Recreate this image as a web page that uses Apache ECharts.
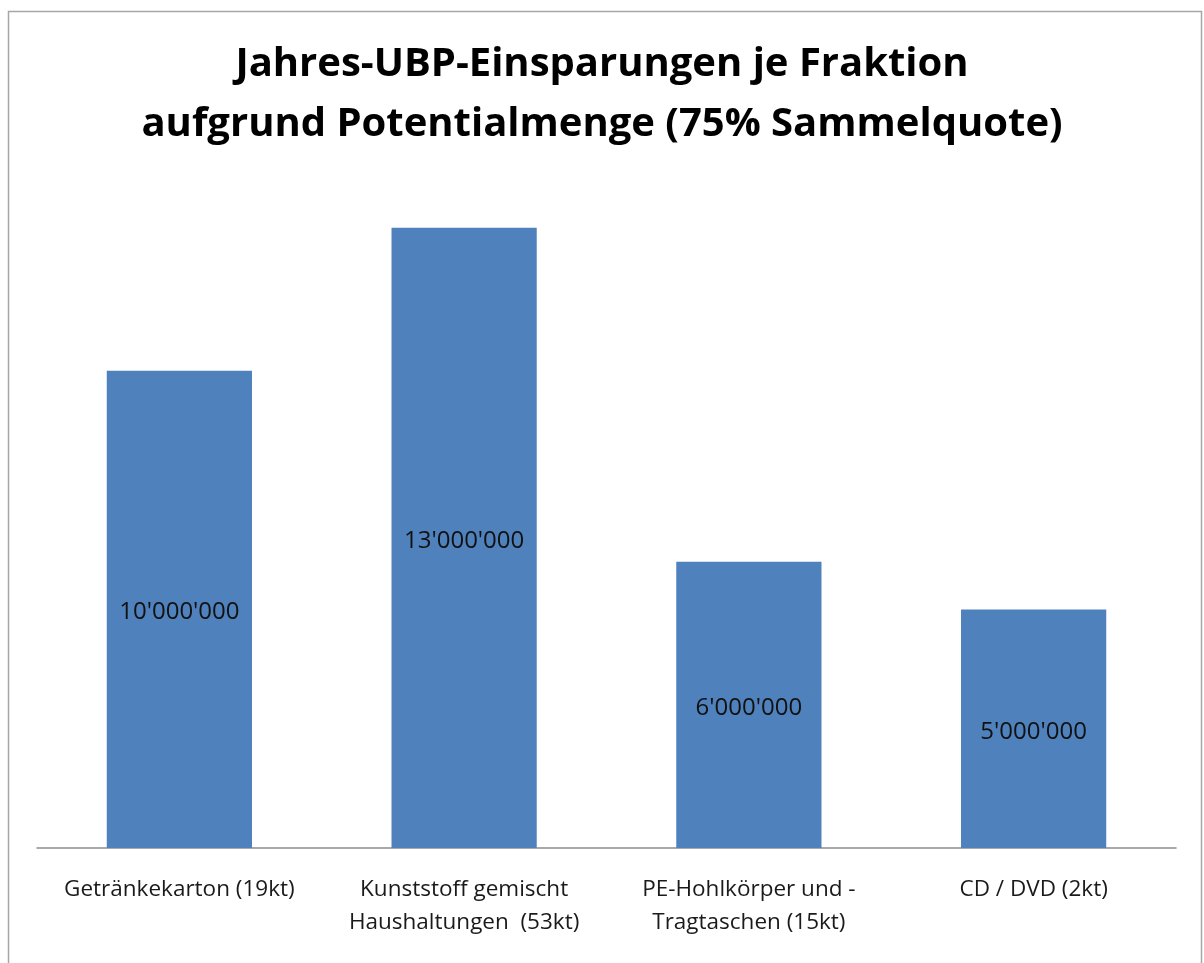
<!DOCTYPE html>
<html><head><meta charset="utf-8">
<script src="https://cdn.jsdelivr.net/npm/echarts@6/dist/echarts.min.js"></script>
<style>html,body{margin:0;padding:0;background:#fff}#c{width:1204px;height:963px}</style>
</head><body><div id="c"></div>
<script>
const titleText = "Jahres-UBP-Einsparungen je Fraktion\naufgrund Potentialmenge (75% Sammelquote)";
const categories = ["Getränkekarton (19kt)", "Kunststoff gemischt\nHaushaltungen  (53kt)", "PE-Hohlkörper und -\nTragtaschen (15kt)", "CD / DVD (2kt)"];
const values = [10000000, 13000000, 6000000, 5000000];

function fmt(v){ return String(Math.round(v)).replace(/\B(?=(\d{3})+(?!\d))/g, "'"); }

const chart = echarts.init(document.getElementById('c'), null, {renderer:'canvas'});
chart.setOption({
  animation:false,
  backgroundColor:'#fff',
  graphic:[{type:'rect', shape:{x:8.5,y:11.5,width:1193,height:970}, style:{fill:'none', stroke:'#a6a6a6', lineWidth:1.5}, silent:true}],
  title:{text:titleText, left:'center', top:30,
    textStyle:{fontFamily:'Open Sans', fontWeight:'bold', fontSize:40, lineHeight:60, color:'#000'}},
  grid:{left:37, right:28, top:180, bottom:115, containLabel:false},
  xAxis:{type:'category', data:categories,
    axisLine:{lineStyle:{color:'#8c8c8c', width:1.5}}, axisTick:{show:false},
    axisLabel:{interval:0, margin:25, fontFamily:'Open Sans', fontSize:22.5, lineHeight:33, color:'#1a1a1a'}},
  yAxis:{type:'value', min:0, max:14000000, show:false, splitLine:{show:false}},
  series:[{type:'bar', data:values, barWidth:'51%', itemStyle:{color:'#4F81BD'},
    label:{show:true, position:'inside', offset:[0,3], formatter:p=>fmt(p.value), fontFamily:'Open Sans', fontSize:24, color:'#111'}}]
});
</script></body></html>
